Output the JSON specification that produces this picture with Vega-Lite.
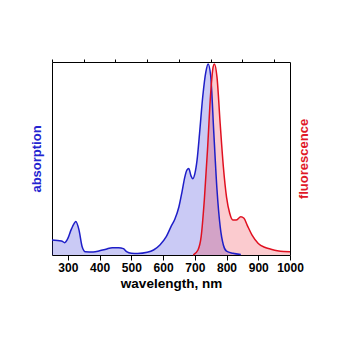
{
  "$schema": "https://vega.github.io/schema/vega-lite/v6.json",
  "autosize": "none",
  "width": 238,
  "height": 193,
  "padding": {"left": 52, "top": 62, "right": 60, "bottom": 95},
  "background": "white",
  "config": {
    "view": {"stroke": null},
    "font": "Liberation Sans",
    "axis": {"grid": false, "domainColor": "black", "tickColor": "black", "labelFont": "Liberation Sans", "titleFont": "Liberation Sans", "labelFontWeight": "bold", "titleFontWeight": "bold", "labelColor": "black", "titleColor": "black"}
  },
  "datasets": {
    "absorption": [
      {"wl": 250, "v": 0.078}, {"wl": 280, "v": 0.073}, {"wl": 290, "v": 0.064}, {"wl": 300, "v": 0.086},
      {"wl": 310, "v": 0.13}, {"wl": 320, "v": 0.164}, {"wl": 325, "v": 0.173}, {"wl": 335, "v": 0.13},
      {"wl": 345, "v": 0.043}, {"wl": 355, "v": 0.017}, {"wl": 380, "v": 0.016}, {"wl": 400, "v": 0.022},
      {"wl": 420, "v": 0.03}, {"wl": 440, "v": 0.038}, {"wl": 460, "v": 0.038}, {"wl": 475, "v": 0.033},
      {"wl": 485, "v": 0.017}, {"wl": 500, "v": 0.009}, {"wl": 520, "v": 0.008}, {"wl": 550, "v": 0.014},
      {"wl": 570, "v": 0.026}, {"wl": 590, "v": 0.052}, {"wl": 610, "v": 0.095}, {"wl": 625, "v": 0.147},
      {"wl": 637, "v": 0.185}, {"wl": 650, "v": 0.25}, {"wl": 660, "v": 0.33}, {"wl": 668, "v": 0.4}, {"wl": 675, "v": 0.44},
      {"wl": 681, "v": 0.448}, {"wl": 688, "v": 0.41}, {"wl": 694, "v": 0.395}, {"wl": 700, "v": 0.42}, {"wl": 707, "v": 0.49},
      {"wl": 715, "v": 0.63}, {"wl": 725, "v": 0.82}, {"wl": 735, "v": 0.95}, {"wl": 742, "v": 0.99},
      {"wl": 750, "v": 0.93}, {"wl": 760, "v": 0.63}, {"wl": 770, "v": 0.337}, {"wl": 780, "v": 0.147},
      {"wl": 790, "v": 0.052}, {"wl": 800, "v": 0.02}, {"wl": 820, "v": 0.009}, {"wl": 845, "v": 0.003}
    ],
    "fluorescence": [
      {"wl": 695, "v": 0.0}, {"wl": 710, "v": 0.026}, {"wl": 720, "v": 0.095}, {"wl": 730, "v": 0.285},
      {"wl": 740, "v": 0.544}, {"wl": 750, "v": 0.838}, {"wl": 758, "v": 0.976}, {"wl": 762, "v": 0.99},
      {"wl": 770, "v": 0.92}, {"wl": 780, "v": 0.68}, {"wl": 790, "v": 0.457}, {"wl": 800, "v": 0.3},
      {"wl": 810, "v": 0.216}, {"wl": 820, "v": 0.181}, {"wl": 830, "v": 0.181}, {"wl": 845, "v": 0.198},
      {"wl": 855, "v": 0.19}, {"wl": 865, "v": 0.155}, {"wl": 880, "v": 0.104}, {"wl": 900, "v": 0.06},
      {"wl": 920, "v": 0.04}, {"wl": 940, "v": 0.03}, {"wl": 960, "v": 0.022}, {"wl": 980, "v": 0.018},
      {"wl": 1000, "v": 0.017}
    ]
  },
  "resolve": {"scale": {"x": "independent", "y": "independent"}, "axis": {"x": "independent", "y": "independent"}},
  "layer": [
    {
      "data": {"name": "absorption"},
      "mark": {"type": "area", "color": "#2a2ad8", "fillOpacity": 0.25, "interpolate": "monotone"},
      "encoding": {
        "x": {"field": "wl", "type": "quantitative", "scale": {"domain": [250, 1000], "nice": false},
              "axis": {"values": [300, 400, 500, 600, 700, 800, 900, 1000], "format": "d", "tickSize": 5, "labelFontSize": 12, "labelPadding": 2, "title": "wavelength, nm", "titleFontSize": 13.5, "titlePadding": 3, "labelFlush": false}},
        "y": {"field": "v", "type": "quantitative", "scale": {"domain": [0, 1], "nice": false},
              "axis": {"orient": "left", "labels": false, "ticks": false, "title": "absorption", "titleColor": "#2424d0", "titleFontSize": 13, "titlePadding": 9}}
      }
    },
    {
      "data": {"name": "fluorescence"},
      "mark": {"type": "area", "color": "#f03040", "fillOpacity": 0.25, "interpolate": "monotone"},
      "encoding": {
        "x": {"field": "wl", "type": "quantitative", "scale": {"domain": [250, 1000], "nice": false},
              "axis": {"values": [250, 350, 450, 550, 650, 750, 850, 950], "tickSize": 3, "labels": false, "title": null}},
        "y": {"field": "v", "type": "quantitative", "scale": {"domain": [0, 1], "nice": false},
              "axis": {"orient": "right", "labels": false, "ticks": false, "title": "fluorescence", "titleAngle": 270, "titleColor": "#e01828", "titleFontSize": 13, "titlePadding": 20}}
      }
    },
    {
      "data": {"name": "absorption"},
      "mark": {"type": "line", "color": "#1e1ec8", "strokeWidth": 1.5, "interpolate": "monotone"},
      "encoding": {
        "x": {"field": "wl", "type": "quantitative", "scale": {"domain": [250, 1000], "nice": false}, "axis": null},
        "y": {"field": "v", "type": "quantitative", "scale": {"domain": [0, 1], "nice": false}, "axis": null}
      }
    },
    {
      "data": {"name": "fluorescence"},
      "mark": {"type": "line", "color": "#e01020", "strokeWidth": 1.5, "interpolate": "monotone"},
      "encoding": {
        "x": {"field": "wl", "type": "quantitative", "scale": {"domain": [250, 1000], "nice": false}, "axis": null},
        "y": {"field": "v", "type": "quantitative", "scale": {"domain": [0, 1], "nice": false}, "axis": null}
      }
    }
  ]
}
